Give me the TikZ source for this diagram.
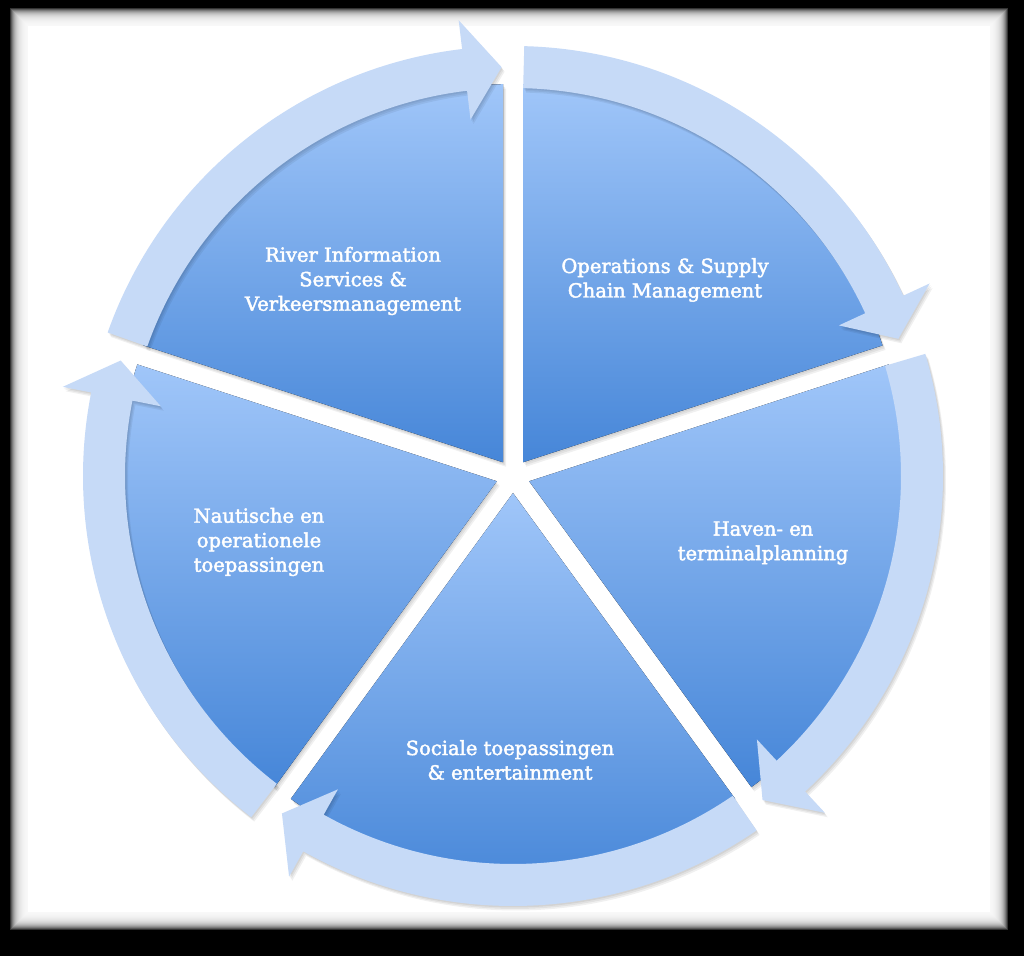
\documentclass[tikz,border=0pt]{standalone}
\usepackage{fontspec}
\setmainfont{DejaVu Serif}
\newfontfamily\lblfont{DejaVu Serif}[FakeBold=2.2]
\definecolor{secTop}{RGB}{160,198,249}
\definecolor{secBot}{RGB}{70,134,216}
\definecolor{arrowFill}{RGB}{198,218,247}
\tikzset{
  lbl/.style={text=white, align=center, inner sep=0pt, font=\lblfont\fontsize{19.5}{24.5}\selectfont},
  shade/.style={black, fill opacity=0.06}
}
\begin{document}
\begin{tikzpicture}[x=1pt,y=1pt]
\useasboundingbox (0,0) rectangle (1024,956);
% frame
\fill[black] (0,0) rectangle (1024,956);
\foreach \i in {0,...,17} \fill[white,fill opacity=0.2] (10+\i,26+\i) rectangle (1008-\i,948-\i);
\fill[white] (28,44) rectangle (990,930);
\coordinate (C) at (513,480);
\begin{scope}[shift={(C)}]
  % sectors
  \foreach \a/\b/\m in {90/162/126, 18/90/54, -54/18/-18, -126/-54/-90, 162/234/198} {
    \foreach \s in {1,2,3}
      \fill[shade,shift={(\m:17)},shift={(\s,-1.5*\s)}] (0,0) -- (\a:378) arc[start angle=\a,end angle=\b,radius=378] -- cycle;
    \fill[shift={(\m:17)},top color=secTop,bottom color=secBot] (0,0) -- (\a:378) arc[start angle=\a,end angle=\b,radius=378] -- cycle;
  }
  % arrow shadows
  \foreach \t/\b/\p in {88.5/24.8/19.6, 16.5/-47.2/-52.4, -55.5/-119.2/-124.4, -127.5/-191.2/-196.4, 160.5/96.8/91.6} {
    \foreach \s in {1,2,3}
      \fill[shade,shift={(\s,-1.5*\s)}] (\t:430) arc[start angle=\t,end angle=\b,radius=430] -- (\b:459) -- (\p:409) -- (\b:359) -- (\b:388) arc[start angle=\b,end angle=\t,radius=388] -- cycle;
  }
  % arrows
  \foreach \t/\b/\p in {88.5/24.8/19.6, 16.5/-47.2/-52.4, -55.5/-119.2/-124.4, -127.5/-191.2/-196.4, 160.5/96.8/91.6} {
    \fill[arrowFill] (\t:430) arc[start angle=\t,end angle=\b,radius=430] -- (\b:459) -- (\p:409) -- (\b:359) -- (\b:388) arc[start angle=\b,end angle=\t,radius=388] -- cycle;
  }
\end{scope}
% labels
\node[lbl] (ris) at (353,675) {River Information\\Services \&\\Verkeersmanagement};
\node[lbl] (ops) at (665,676) {Operations \& Supply\\Chain Management};
\node[lbl] (haven) at (763,413) {Haven- en\\terminalplanning};
\node[lbl] (soc) at (510,196) {Sociale toepassingen\\\& entertainment};
\node[lbl] (naut) at (259,414) {Nautische en\\operationele\\toepassingen};
\end{tikzpicture}
\end{document}
